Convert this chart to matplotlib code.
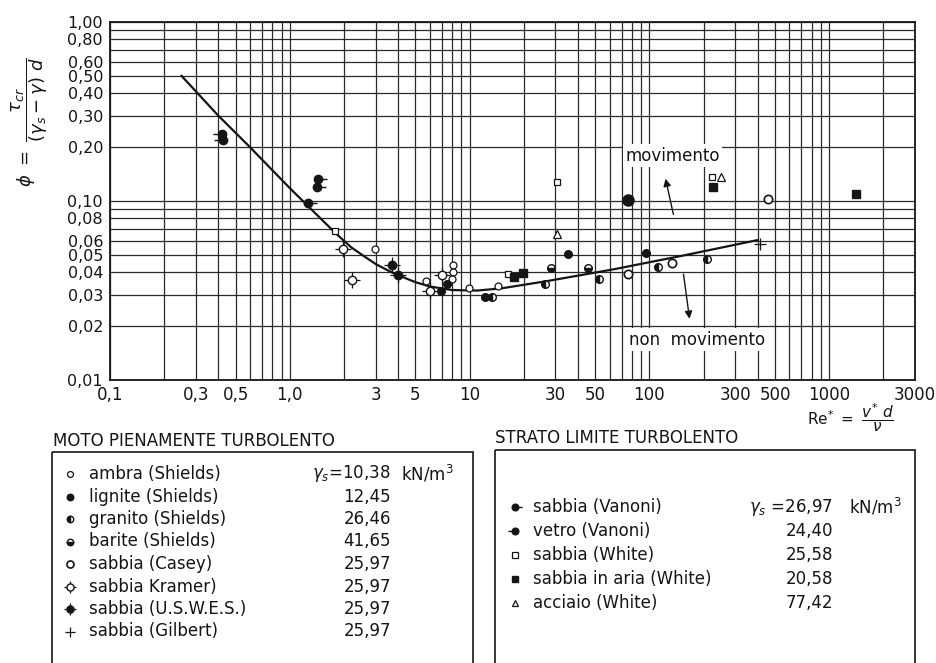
import numpy as np
import matplotlib
matplotlib.use("Agg")
import matplotlib.pyplot as plt
from matplotlib.path import Path
from matplotlib.patches import Rectangle
from matplotlib.ticker import LogLocator, NullFormatter

plt.rcParams['font.family'] = ['DejaVu Sans']
plt.rcParams['mathtext.fontset'] = 'dejavusans'

# Shields curve (Re*, phi)
curve_re  = [0.25, 0.4, 0.6, 1.0, 1.5, 1.8, 2.2, 2.6, 3.0, 3.5, 4.0, 5.0, 6.0, 8.0, 11.0, 15, 27, 63, 150, 400]
curve_phi = [0.50, 0.30, 0.20, 0.118, 0.079, 0.066, 0.055, 0.049, 0.0445, 0.041, 0.0385, 0.0352,
             0.0333, 0.0318, 0.0316, 0.0325, 0.0357, 0.0415, 0.0493, 0.0605]

# experimental points
ambra_re   = [2.98, 5.72, 8.05, 8.11, 8.01, 9.92, 14.4]
ambra_phi  = [0.0537, 0.0356, 0.0437, 0.0401, 0.0369, 0.0327, 0.0337]
lignite_re  = [6.9, 7.52, 12.2, 35.1, 95.3]
lignite_phi = [0.0313, 0.0342, 0.0292, 0.0508, 0.0510]
granito_re  = [13.3, 26.2, 52.5, 112, 208]
granito_phi = [0.0292, 0.0345, 0.0368, 0.0428, 0.0472]
barite_re  = [28.4, 45.7]
barite_phi = [0.0421, 0.0424]
casey_re  = [76.3, 134, 457]
casey_phi = [0.0393, 0.0449, 0.1026]
kramer_re  = [1.97, 2.23, 6.03, 7.05]
kramer_phi = [0.0542, 0.036, 0.0313, 0.0384]
uswes_re  = [3.69, 4.01]
uswes_phi = [0.0439, 0.0384]
gilbert_re  = [412]
gilbert_phi = [0.0573]
vanoni_sand_re  = [1.44, 1.42, 1.27]
vanoni_sand_phi = [0.133, 0.120, 0.0971]
vanoni_glass_re  = [0.418, 0.423]
vanoni_glass_phi = [0.238, 0.218]
big_dot_re  = [76.3]
big_dot_phi = [0.1017]
white_sand_re  = [1.78, 16.4, 30.5, 222]
white_sand_phi = [0.068, 0.0393, 0.127, 0.136]
white_air_re  = [17.7, 19.7, 225, 1410]
white_air_phi = [0.0378, 0.0394, 0.120, 0.1095]
steel_re  = [30.7, 249]
steel_phi = [0.0658, 0.136]

# axis ticks
xticks = [0.1, 0.3, 0.5, 1.0, 3, 5, 10, 30, 50, 100, 300, 500, 1000, 3000]
xlabels = ['0,1', '0,3', '0,5', '1,0', '3', '5', '10', '30', '50', '100', '300', '500', '1000', '3000']
yticks = [0.01, 0.02, 0.03, 0.04, 0.05, 0.06, 0.08, 0.10, 0.20, 0.30, 0.40, 0.50, 0.60, 0.80, 1.00]
ylabels = ['0,01', '0,02', '0,03', '0,04', '0,05', '0,06', '0,08', '0,10', '0,20', '0,30',
           '0,40', '0,50', '0,60', '0,80', '1,00']

# legend contents
left_title = 'MOTO PIENAMENTE TURBOLENTO'
left_names = ['ambra (Shields)', 'lignite (Shields)', 'granito (Shields)', 'barite (Shields)',
              'sabbia (Casey)', 'sabbia Kramer)', 'sabbia (U.S.W.E.S.)', 'sabbia (Gilbert)']
left_gamma = ['10,38', '12,45', '26,46', '41,65', '25,97', '25,97', '25,97', '25,97']
right_title = 'STRATO LIMITE TURBOLENTO'
right_names = ['sabbia (Vanoni)', 'vetro (Vanoni)', 'sabbia (White)', 'sabbia in aria (White)',
               'acciaio (White)']
right_gamma = ['26,97', '24,40', '25,58', '20,58', '77,42']

INK = '#151515'
tail_right = Path([(0, 0), (1, 0)])
tail_left = Path([(0, 0), (-1, 0)])


def draw_marker(ax, x, y, kind, s=1.0):
    """draw one of the symbols used in the chart"""
    z = 5
    if kind == 'ambra':
        ax.plot(x, y, 'o', ms=5*s, mfc='white', mec=INK, mew=0.9, ls='none', zorder=z)
    elif kind == 'lignite':
        ax.plot(x, y, 'o', ms=5.5*s, mfc=INK, mec=INK, ls='none', zorder=z)
    elif kind == 'granito':
        ax.plot(x, y, 'o', ms=5.5*s, mfc=INK, mfcalt='white', fillstyle='left', mec=INK,
                mew=1.0, ls='none', zorder=z)
    elif kind == 'barite':
        ax.plot(x, y, 'o', ms=5.5*s, mfc=INK, mfcalt='white', fillstyle='bottom', mec=INK,
                mew=1.0, ls='none', zorder=z)
    elif kind == 'casey':
        ax.plot(x, y, 'o', ms=6*s, mfc='white', mec=INK, mew=1.2, ls='none', zorder=z)
    elif kind == 'kramer':
        ax.plot(x, y, '+', ms=11*s, mec=INK, mew=0.9, ls='none', zorder=z)
        ax.plot(x, y, 'o', ms=6*s, mfc='white', mec=INK, mew=1.0, ls='none', zorder=z+1)
    elif kind == 'uswes':
        ax.plot(x, y, '+', ms=11*s, mec=INK, mew=0.9, ls='none', zorder=z)
        ax.plot(x, y, 'o', ms=6*s, mfc=INK, mec=INK, ls='none', zorder=z+1)
    elif kind == 'gilbert':
        ax.plot(x, y, '+', ms=9*s, mec=INK, mew=0.9, ls='none', zorder=z)
    elif kind == 'vanoni':
        ax.plot(x, y, ls='none', marker=tail_right, ms=13*s, mec=INK, mew=1.0, zorder=z)
        ax.plot(x, y, 'o', ms=6*s, mfc=INK, mec=INK, ls='none', zorder=z+1)
    elif kind == 'vetro':
        ax.plot(x, y, ls='none', marker=tail_left, ms=13*s, mec=INK, mew=1.0, zorder=z)
        ax.plot(x, y, 'o', ms=6*s, mfc=INK, mec=INK, ls='none', zorder=z+1)
    elif kind == 'bigdot':
        ax.plot(x, y, 'o', ms=8*s, mfc=INK, mec=INK, ls='none', zorder=z)
    elif kind == 'wsand':
        ax.plot(x, y, 's', ms=5*s, mfc='white', mec=INK, mew=0.9, ls='none', zorder=z)
    elif kind == 'wair':
        ax.plot(x, y, 's', ms=5.5*s, mfc=INK, mec=INK, ls='none', zorder=z)
    elif kind == 'steel':
        ax.plot(x, y, '^', ms=6*s, mfc='white', mec=INK, mew=0.9, ls='none', zorder=z)


fig = plt.figure(figsize=(9.36, 6.63), dpi=100)
ax = fig.add_axes([110/936, 1 - 380/663, 805/936, 358/663])

ax.set_xscale('log')
ax.set_yscale('log')
ax.set_xlim(0.1, 3000)
ax.set_ylim(0.01, 1.0)

ax.set_xticks(xticks, xlabels)
ax.set_yticks(yticks, ylabels)
ax.xaxis.set_minor_locator(LogLocator(base=10, subs=np.arange(2, 10)))
ax.yaxis.set_minor_locator(LogLocator(base=10, subs=np.arange(2, 10)))
ax.xaxis.set_minor_formatter(NullFormatter())
ax.yaxis.set_minor_formatter(NullFormatter())
ax.tick_params(axis='both', which='both', length=0, labelsize=12, colors=INK)
ax.tick_params(axis='x', pad=4)
ax.tick_params(axis='y', pad=5, labelsize=11.5)
ax.grid(which='both', color='#2a2a2a', lw=0.9)
for sp in ax.spines.values():
    sp.set_linewidth(1.3)
    sp.set_color(INK)

# Shields curve
ax.plot(curve_re, curve_phi, color=INK, lw=1.6, zorder=4)

# points
draw_marker(ax, ambra_re, ambra_phi, 'ambra')
draw_marker(ax, lignite_re, lignite_phi, 'lignite')
draw_marker(ax, granito_re, granito_phi, 'granito')
draw_marker(ax, barite_re, barite_phi, 'barite')
draw_marker(ax, casey_re, casey_phi, 'casey')
draw_marker(ax, kramer_re, kramer_phi, 'kramer')
draw_marker(ax, uswes_re, uswes_phi, 'uswes')
draw_marker(ax, gilbert_re, gilbert_phi, 'gilbert')
draw_marker(ax, vanoni_sand_re, vanoni_sand_phi, 'vanoni')
draw_marker(ax, vanoni_glass_re, vanoni_glass_phi, 'vetro')
draw_marker(ax, big_dot_re, big_dot_phi, 'bigdot')
draw_marker(ax, white_sand_re, white_sand_phi, 'wsand')
draw_marker(ax, white_air_re, white_air_phi, 'wair')
draw_marker(ax, steel_re, steel_phi, 'steel')

# region labels and arrows
ax.text(134, 0.179, 'movimento', fontsize=12, ha='center', va='center', color=INK, zorder=6,
        bbox=dict(boxstyle='square,pad=0.15', fc='white', ec='none'))
ax.text(184, 0.0168, 'non  movimento', fontsize=12, ha='center', va='center', color=INK, zorder=6,
        bbox=dict(boxstyle='square,pad=0.15', fc='white', ec='none'))
ax.annotate('', xy=(122, 0.138), xytext=(137, 0.0813),
            arrowprops=dict(arrowstyle='-|>', lw=1.0, color=INK, mutation_scale=11))
ax.annotate('', xy=(168, 0.0212), xytext=(154, 0.0404),
            arrowprops=dict(arrowstyle='-|>', lw=1.0, color=INK, mutation_scale=11))

# axis labels
fig.text(30/936, 1 - 122/663, r'$\phi\ =\ \dfrac{\tau_{cr}}{(\gamma_s-\gamma)\ d}$', rotation=90,
         ha='center', va='center', fontsize=13, color=INK)
fig.text(850/936, 1 - 418/663, r'$\mathrm{Re}^{*}\ =\ \dfrac{v^{*}\ d}{\nu}$',
         ha='center', va='center', fontsize=11, color=INK)

# legend boxes drawn in pixel coordinates
lax = fig.add_axes([0, 0, 1, 1])
lax.set_xlim(0, 936)
lax.set_ylim(663, 0)
lax.set_axis_off()

kinds_left = ['ambra', 'lignite', 'granito', 'barite', 'casey', 'kramer', 'uswes', 'gilbert']
kinds_right = ['vanoni', 'vetro', 'wsand', 'wair', 'steel']

lax.text(53, 441, left_title, fontsize=12, ha='left', va='center', color=INK)
lax.add_patch(Rectangle((52, 452), 421, 260, fill=False, lw=1.2, ec=INK, clip_on=False))
for i, (name, g, k) in enumerate(zip(left_names, left_gamma, kinds_left)):
    yy = 474 + i * 22.5
    draw_marker(lax, [70], [yy], k, s=0.85)
    lax.text(89, yy, name, fontsize=12, ha='left', va='center', color=INK)
    lab = r'$\gamma_s$=' + g if i == 0 else g
    lax.text(391, yy, lab, fontsize=12, ha='right', va='center', color=INK)
    if i == 0:
        lax.text(401, yy, r'kN/m$^3$', fontsize=12, ha='left', va='center', color=INK)

lax.text(495, 438, right_title, fontsize=12, ha='left', va='center', color=INK)
lax.add_patch(Rectangle((495, 450), 420, 260, fill=False, lw=1.2, ec=INK, clip_on=False))
for i, (name, g, k) in enumerate(zip(right_names, right_gamma, kinds_right)):
    yy = 507 + i * 24
    draw_marker(lax, [515], [yy], k, s=0.8)
    lax.text(533, yy, name, fontsize=12, ha='left', va='center', color=INK)
    lab = r'$\gamma_s$ =' + g if i == 0 else g
    lax.text(833, yy, lab, fontsize=12, ha='right', va='center', color=INK)
    if i == 0:
        lax.text(849, yy, r'kN/m$^3$', fontsize=12, ha='left', va='center', color=INK)

fig.savefig('out.png', dpi=100)
